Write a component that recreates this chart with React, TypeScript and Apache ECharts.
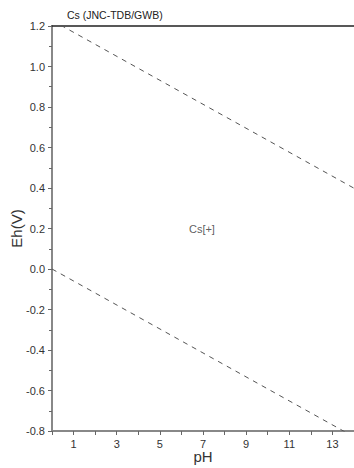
import React, { useEffect, useRef } from "react";
import * as echarts from "echarts";

const title = "Cs (JNC-TDB/GWB)";
const phRange = [0, 14];
const ehRange = [-0.8, 1.2];
// water stability lines (pH, Eh)
const upperLine = [[0, 1.228], [14, 0.399]];
const lowerLine = [[0, 0.0], [14, -0.829]];
const speciesLabels = [{ name: "Cs[+]", value: [6.95, 0.2] }];

export default function App() {
  const ref = useRef<HTMLDivElement>(null);
  useEffect(() => {
    const chart = echarts.init(ref.current!, null, { renderer: "svg" });
    const font = "Liberation Sans, Arial, sans-serif";
    const dashStyle = { color: "#555", width: 1, type: [5, 5] as any };
    chart.setOption({
      animation: false,
      title: {
        text: title,
        left: 62,
        top: 4,
        textStyle: { fontSize: 10.5, fontWeight: "normal", color: "#222", fontFamily: font },
      },
      grid: { left: 52, right: 0, top: 26, bottom: 37, outerBoundsMode: "none", containLabel: false },
      xAxis: [
        {
          type: "value",
          min: phRange[0],
          max: phRange[1],
          interval: 1,
          name: "pH",
          nameLocation: "middle",
          nameGap: 18,
          nameMoveOverlap: false,
          nameTextStyle: { fontSize: 15, lineHeight: 15, color: "#333", fontFamily: font },
          axisLine: { show: true, onZero: false, lineStyle: { color: "#888", width: 2 } },
          axisTick: { show: true, length: 4, lineStyle: { color: "#666" } },
          axisLabel: {
            margin: 7,
            fontSize: 11,
            lineHeight: 11,
            color: "#333",
            fontFamily: font,
            formatter: (v: number) => (v % 2 === 1 ? String(v) : ""),
          },
          splitLine: { show: false },
        },
        {
          type: "value",
          position: "top",
          min: phRange[0],
          max: phRange[1],
          axisLine: { show: true, onZero: false, lineStyle: { color: "#222", width: 1.5 } },
          axisTick: { show: false },
          axisLabel: { show: false },
          splitLine: { show: false },
        },
      ],
      yAxis: {
        type: "value",
        min: ehRange[0],
        max: ehRange[1],
        interval: 0.2,
        name: "Eh(V)",
        nameLocation: "middle",
        nameGap: 28,
        nameMoveOverlap: false,
        nameTextStyle: { fontSize: 15, color: "#333", fontFamily: font },
        axisLine: { show: true, onZero: false, lineStyle: { color: "#888", width: 2 } },
        axisTick: { show: true, length: 4, lineStyle: { color: "#666" } },
        minorTick: { show: true, splitNumber: 2, length: 3, lineStyle: { color: "#666" } },
        axisLabel: {
          margin: 7,
          fontSize: 11,
          color: "#333",
          fontFamily: font,
          formatter: (v: number) => v.toFixed(1),
        },
        splitLine: { show: false },
      },
      series: [
        {
          type: "line",
          data: upperLine,
          symbol: "none",
          lineStyle: dashStyle,
          clip: true,
        },
        {
          type: "line",
          data: lowerLine,
          symbol: "none",
          lineStyle: dashStyle,
          clip: true,
        },
        {
          type: "scatter",
          data: speciesLabels,
          symbolSize: 0,
          label: {
            show: true,
            position: "inside",
            formatter: (p: any) => p.name,
            fontSize: 11,
            color: "#333",
            fontFamily: font,
          },
        },
      ],
    });
    return () => chart.dispose();
  }, []);
  return <div ref={ref} style={{ width: 354, height: 468, position: "absolute", left: 0, top: 0 }} />;
}
